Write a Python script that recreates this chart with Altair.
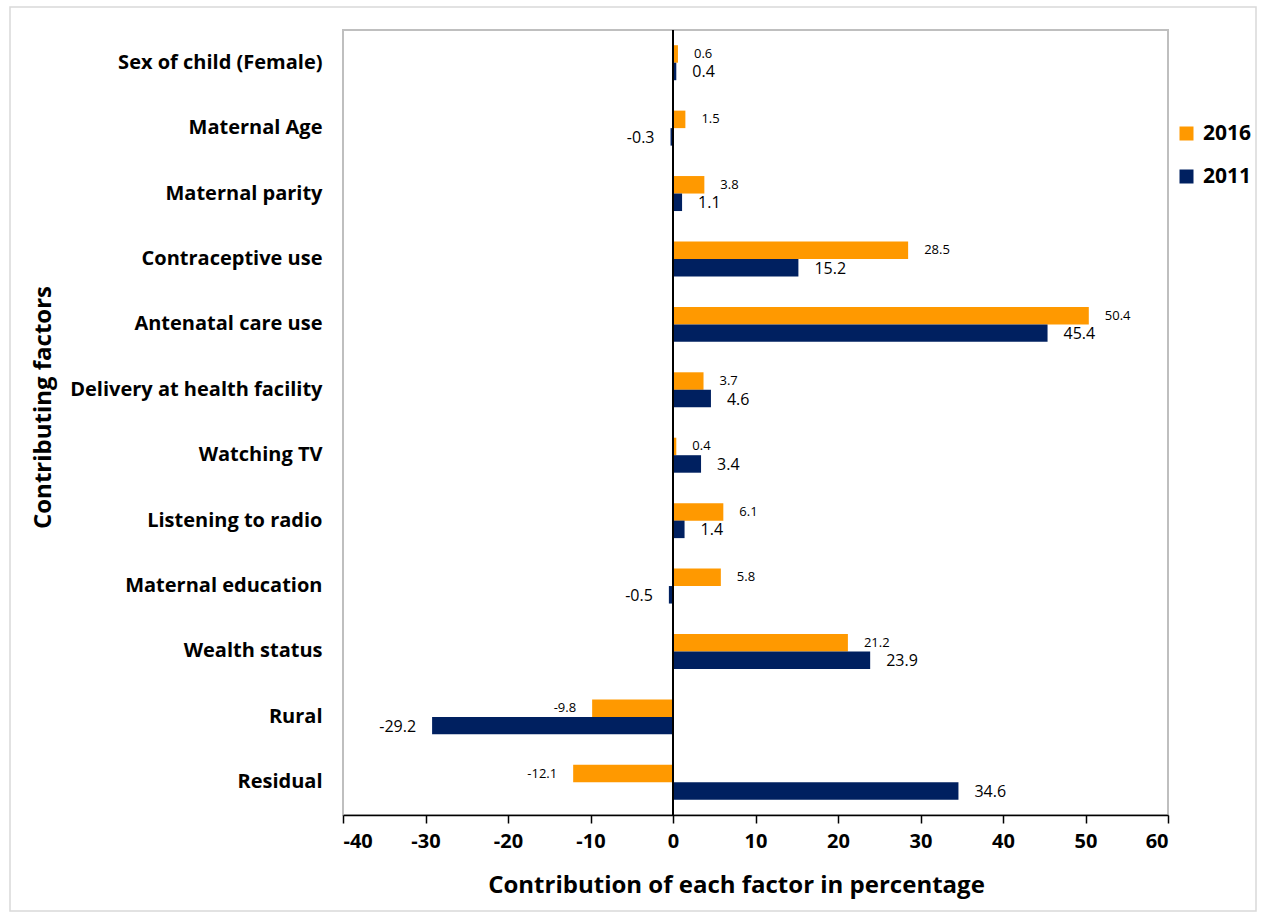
import altair as alt
import pandas as pd

SP = "\u2005"
factors = [
    "Sex of child (Female)",
    "Maternal Age",
    "Maternal parity" + SP,
    "Contraceptive use",
    "Antenatal care use" + SP,
    "Delivery at health facility",
    "Watching TV",
    "Listening to radio",
    "Maternal education",
    "Wealth status",
    "Rural",
    "Residual" + SP,
]
years = ["2016", "2011"]
values_2016 = [0.6, 1.5, 3.8, 28.5, 50.4, 3.7, 0.4, 6.1, 5.8, 21.2, -9.8, -12.1]
values_2011 = [0.4, -0.3, 1.1, 15.2, 45.4, 4.6, 3.4, 1.4, -0.5, 23.9, -29.2, 34.6]
x_ticks = [-40, -30, -20, -10, 0, 10, 20, 30, 40, 50, 60]
colors = ["#FF9900", "#002060"]

rows = []
for f, a, b in zip(factors, values_2016, values_2011):
    rows.append({"Factor": f, "Year": "2016", "Value": a, "Label": f"{a:.1f}"})
    rows.append({"Factor": f, "Year": "2011", "Value": b, "Label": f"{b:.1f}"})
df = pd.DataFrame(rows)

FONT = "Open Sans"

y_enc = alt.Y(
    "Factor:N",
    sort=factors,
    scale=alt.Scale(paddingInner=0.465, paddingOuter=0.2325),
    axis=alt.Axis(
        title="Contributing factors",
        titleFontSize=24,
        titleFont=FONT,
        titleFontWeight="bold",
        titleColor="black",
        titleX=-300,
        titleY=377,
        titleAngle=270,
        titleAlign="center",
        titleBaseline="middle",
        labelFont=FONT,
        labelFontSize=20,
        labelFontWeight="bold",
        labelColor="black",
        labelPadding=21,
        ticks=False,
        domain=False,
        labelLimit=400,
    ),
)
yoff = alt.YOffset("Year:N", sort=years, scale=alt.Scale(paddingInner=0, paddingOuter=0))
x_enc = alt.X(
    "Value:Q",
    scale=alt.Scale(domain=[-40, 60], nice=False, zero=False),
    axis=alt.Axis(
        title="Contribution of each factor in percentage",
        values=x_ticks,
        labelExpr="replace(datum.label, '\u2212', '-')",
        titleFontSize=24,
        titleFont=FONT,
        titleFontWeight="bold",
        titleColor="black",
        titleX=393,
        titleY=77,
        titleAlign="center",
        titleBaseline="alphabetic",
        labelFont=FONT,
        labelFontSize=20,
        labelFontWeight="bold",
        labelColor="black",
        labelPadding=8,
        tickColor="black",
        tickSize=8,
        tickWidth=1.5,
        domainColor="black",
        domainWidth=1.5,
        grid=False,
    ),
)
color_enc = alt.Color(
    "Year:N",
    scale=alt.Scale(domain=years, range=colors),
    legend=alt.Legend(
        title=None,
        orient="none",
        legendX=833,
        legendY=93,
        symbolType="square",
        symbolSize=196,
        symbolStrokeWidth=0,
        labelFont=FONT,
        labelFontSize=21,
        labelFontWeight="bold",
        labelColor="black",
        labelOffset=6,
        rowPadding=21,
    ),
)

base = alt.Chart(df)

bars = base.mark_bar(stroke=None).encode(y=y_enc, yOffset=yoff, x=x_enc, color=color_enc)


def labels(year, size, positive, dy):
    cond = "datum.Value >= 0" if positive else "datum.Value < 0"
    return (
        base.transform_filter(f"datum.Year == '{year}' && {cond}")
        .mark_text(
            align="left" if positive else "right",
            baseline="middle",
            dx=16 if positive else -16,
            dy=dy,
            font=FONT,
            fontSize=size,
            color="black",
        )
        .encode(y=alt.Y("Factor:N", sort=factors), yOffset=yoff, x="Value:Q", text="Label:N")
    )


zero_rule = alt.Chart(pd.DataFrame({"z": [0]})).mark_rule(color="black", strokeWidth=2).encode(x="z:Q")

frame = alt.Chart(pd.DataFrame({"k": [0]})).mark_rect(
    fill=None, stroke="#D9D9D9", strokeWidth=1.5
).encode(x=alt.value(-333), x2=alt.value(913), y=alt.value(-23), y2=alt.value(881))

chart = (
    alt.layer(
        frame,
        bars,
        zero_rule,
        labels("2016", 13, True, 0),
        labels("2016", 13, False, 0),
        labels("2011", 16, True, 1),
        labels("2011", 16, False, 1),
    )
    .properties(
        width=825,
        height=785,
        autosize=alt.AutoSizeParams(type="none"),
        padding={"left": 343, "top": 30, "right": 98, "bottom": 102},
        background="white",
    )
    .configure_view(stroke="#BFBFBF", strokeWidth=2)
)

chart.save("out.html", embed_options={"renderer": "svg", "actions": False})
